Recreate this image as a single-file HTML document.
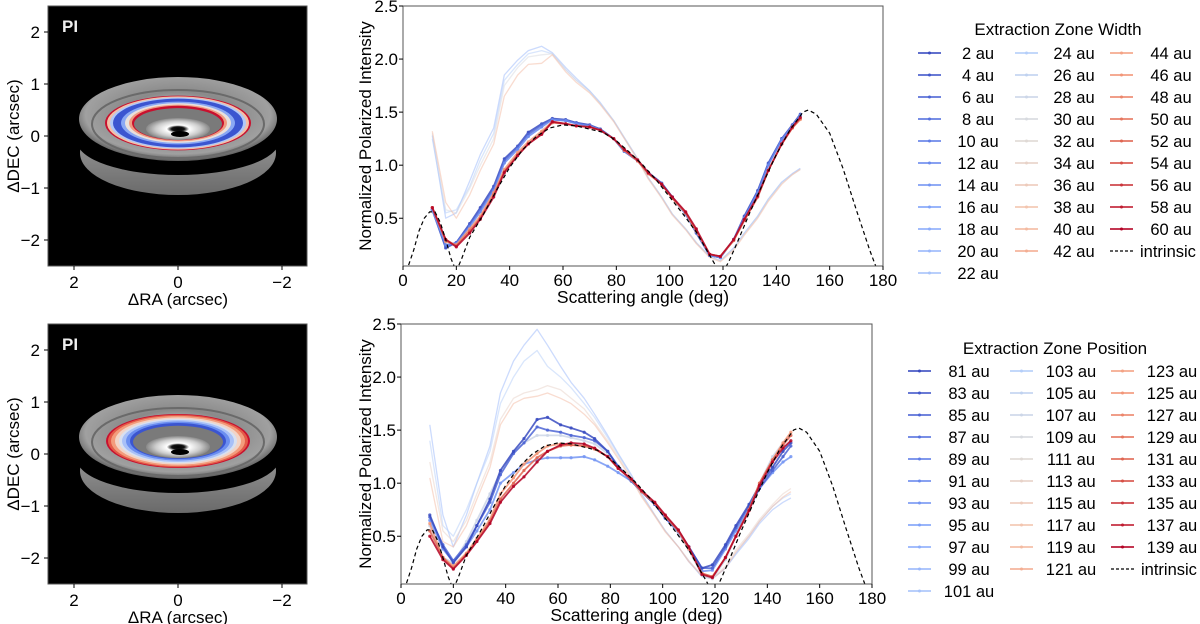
<!DOCTYPE html>
<html><head><meta charset="utf-8">
<style>
html,body{margin:0;padding:0;background:#fff;}
svg{display:block;font-family:"Liberation Sans","DejaVu Sans",sans-serif;}
</style></head>
<body>
<svg id="fig" width="1200" height="624" viewBox="0 0 1200 624" xmlns="http://www.w3.org/2000/svg">
<defs>
  <radialGradient id="grayDisk" cx="50%" cy="45%" r="55%">
    <stop offset="0" stop-color="#ddd"/>
    <stop offset="0.5" stop-color="#8a8a8a"/>
    <stop offset="0.85" stop-color="#a0a0a0"/>
    <stop offset="1" stop-color="#5a5a5a"/>
  </radialGradient>
  <linearGradient id="lowBand" x1="0" y1="0" x2="0" y2="1">
    <stop offset="0" stop-color="#aaa"/><stop offset="1" stop-color="#6a6a6a"/>
  </linearGradient>
  <radialGradient id="core" cx="50%" cy="50%" r="50%">
    <stop offset="0" stop-color="#000"/><stop offset="0.2" stop-color="#111"/>
    <stop offset="0.35" stop-color="#fff"/><stop offset="0.7" stop-color="#ccc"/><stop offset="1" stop-color="#888"/>
  </radialGradient>
  <clipPath id="clipTop"><rect x="403" y="6" width="480" height="260"/></clipPath>
  <clipPath id="clipBot"><rect x="401" y="324" width="471" height="260"/></clipPath>
  <clipPath id="imgClipT"><rect x="48" y="6" width="259" height="260"/></clipPath>
  <clipPath id="imgClipB"><rect x="48" y="324" width="259" height="260"/></clipPath>
</defs>
<g id="root"></g>
</svg>
<script>
// ---------------- DATA ----------------
const angles = [11,16,20,25,29,34,38,43,47,52,56,61,65,70,74,79,83,88,92,97,101,106,110,115,119,124,128,133,137,142,146,149];

// top panel (Extraction Zone Width) series
const w2  = [0.58,0.22,0.27,0.45,0.60,0.80,1.06,1.18,1.31,1.39,1.44,1.43,1.40,1.38,1.34,1.25,1.13,1.04,0.93,0.83,0.70,0.54,0.36,0.15,0.13,0.30,0.52,0.76,1.02,1.25,1.38,1.48];
const w6  = [0.58,0.24,0.27,0.44,0.58,0.78,1.04,1.17,1.29,1.38,1.43,1.42,1.40,1.37,1.34,1.25,1.13,1.04,0.93,0.83,0.70,0.54,0.37,0.15,0.13,0.30,0.51,0.75,1.01,1.24,1.37,1.47];
const w12 = [0.58,0.25,0.26,0.42,0.56,0.76,1.02,1.15,1.27,1.36,1.43,1.42,1.39,1.37,1.33,1.25,1.13,1.04,0.93,0.82,0.69,0.54,0.37,0.15,0.13,0.30,0.50,0.74,1.00,1.24,1.37,1.47];
const w20 = [1.28,0.50,0.55,0.85,1.10,1.35,1.85,1.99,2.08,2.12,2.06,1.92,1.82,1.70,1.59,1.42,1.26,1.06,0.88,0.70,0.54,0.40,0.27,0.14,0.10,0.22,0.36,0.52,0.68,0.84,0.92,0.97];
const w24 = [1.25,0.55,0.58,0.80,1.05,1.30,1.80,1.95,2.05,2.08,2.05,1.90,1.80,1.70,1.58,1.42,1.26,1.06,0.88,0.70,0.54,0.40,0.27,0.14,0.10,0.22,0.36,0.52,0.68,0.84,0.92,0.97];
const w30 = [1.30,0.58,0.55,0.78,1.00,1.25,1.75,1.92,2.02,2.04,2.05,1.90,1.80,1.69,1.58,1.42,1.26,1.06,0.88,0.70,0.54,0.40,0.27,0.14,0.10,0.21,0.35,0.51,0.67,0.83,0.91,0.96];
const w40 = [1.32,0.65,0.50,0.72,0.95,1.20,1.65,1.85,1.95,1.96,2.04,1.88,1.78,1.68,1.57,1.41,1.25,1.05,0.87,0.69,0.53,0.39,0.26,0.13,0.09,0.20,0.34,0.50,0.66,0.82,0.91,0.96];
const w46 = [0.60,0.28,0.25,0.40,0.52,0.74,0.96,1.12,1.22,1.32,1.41,1.39,1.37,1.36,1.33,1.25,1.14,1.04,0.92,0.82,0.69,0.55,0.38,0.16,0.14,0.29,0.48,0.70,0.95,1.20,1.35,1.43];
const w52 = [0.60,0.30,0.24,0.38,0.50,0.72,0.94,1.10,1.20,1.30,1.40,1.39,1.37,1.36,1.33,1.25,1.14,1.04,0.92,0.82,0.69,0.55,0.38,0.16,0.14,0.29,0.48,0.70,0.95,1.20,1.35,1.44];
const w60 = [0.60,0.30,0.23,0.36,0.49,0.70,0.93,1.09,1.20,1.29,1.41,1.39,1.37,1.36,1.33,1.25,1.15,1.05,0.93,0.82,0.70,0.56,0.40,0.16,0.14,0.30,0.49,0.71,0.95,1.20,1.36,1.45];
const topSeries = [w20, w24, w30, w40, w2, w6, w12, w46, w52, w60];
const topSeriesAu = [20, 24, 30, 40, 2, 6, 12, 46, 52, 60];
const topFaint = [true, true, true, true, false, false, false, false, false, false];
const topLegend = [2,4,6,8,10,12,14,16,18,20,22,24,26,28,30,32,34,36,38,40,42,44,46,48,50,52,54,56,58,60];

// bottom panel (Extraction Zone Position) series
const p81  = [0.70,0.40,0.25,0.40,0.60,0.85,1.12,1.30,1.42,1.60,1.62,1.55,1.52,1.48,1.42,1.30,1.15,1.02,0.92,0.80,0.68,0.55,0.40,0.20,0.23,0.42,0.60,0.80,0.98,1.15,1.30,1.38];
const p85  = [0.68,0.42,0.27,0.42,0.60,0.82,1.08,1.28,1.38,1.53,1.50,1.48,1.45,1.43,1.40,1.30,1.16,1.03,0.92,0.80,0.67,0.55,0.40,0.20,0.20,0.40,0.58,0.78,0.95,1.12,1.25,1.35];
const p93  = [0.65,0.38,0.26,0.40,0.55,0.75,1.00,1.10,1.18,1.22,1.24,1.24,1.24,1.25,1.22,1.16,1.10,1.02,0.92,0.80,0.67,0.54,0.38,0.17,0.18,0.38,0.55,0.75,0.95,1.10,1.20,1.25];
const p99  = [1.55,0.70,0.40,0.70,1.00,1.35,1.85,2.15,2.30,2.45,2.30,2.10,1.95,1.80,1.65,1.45,1.28,1.08,0.90,0.70,0.55,0.40,0.26,0.12,0.10,0.20,0.33,0.48,0.62,0.75,0.82,0.86];
const p103 = [1.40,0.60,0.50,0.75,1.00,1.30,1.75,2.00,2.15,2.25,2.10,2.00,1.90,1.75,1.62,1.43,1.27,1.07,0.89,0.70,0.55,0.40,0.27,0.12,0.10,0.20,0.34,0.50,0.64,0.78,0.86,0.90];
const p107 = [0.60,0.30,0.25,0.45,0.65,0.90,1.10,1.30,1.38,1.45,1.45,1.45,1.43,1.40,1.37,1.28,1.15,1.03,0.92,0.80,0.67,0.53,0.37,0.14,0.10,0.28,0.50,0.75,1.00,1.25,1.38,1.45];
const p113 = [1.20,0.55,0.45,0.65,0.90,1.20,1.60,1.80,1.85,1.88,1.92,1.88,1.80,1.70,1.57,1.40,1.25,1.05,0.88,0.70,0.55,0.40,0.27,0.13,0.10,0.22,0.37,0.52,0.66,0.80,0.90,0.95];
const p119 = [1.05,0.45,0.40,0.60,0.85,1.15,1.55,1.75,1.80,1.82,1.85,1.80,1.75,1.65,1.55,1.38,1.23,1.04,0.87,0.69,0.54,0.40,0.26,0.13,0.10,0.20,0.35,0.50,0.64,0.78,0.87,0.92];
const p125 = [0.62,0.30,0.22,0.34,0.48,0.66,0.90,1.05,1.18,1.28,1.35,1.37,1.36,1.35,1.32,1.25,1.14,1.03,0.92,0.81,0.69,0.55,0.38,0.15,0.12,0.30,0.50,0.75,1.00,1.22,1.38,1.48];
const p131 = [0.55,0.30,0.20,0.33,0.46,0.64,0.85,1.00,1.12,1.24,1.30,1.35,1.36,1.35,1.33,1.25,1.14,1.04,0.92,0.81,0.69,0.55,0.39,0.15,0.12,0.30,0.50,0.75,1.00,1.22,1.36,1.45];
const p139 = [0.50,0.28,0.19,0.32,0.45,0.62,0.82,0.97,1.06,1.20,1.30,1.36,1.38,1.37,1.33,1.25,1.14,1.04,0.93,0.82,0.70,0.56,0.40,0.14,0.11,0.30,0.50,0.74,0.98,1.20,1.33,1.40];
const botSeries = [p99, p103, p113, p119, p107, p93, p85, p81, p125, p131, p139];
const botSeriesAu = [99, 103, 113, 119, 107, 93, 85, 81, 125, 131, 139];
const botFaint = [true, true, true, true, false, false, false, false, false, false, false];
const botLegend = [81,83,85,87,89,91,93,95,97,99,101,103,105,107,109,111,113,115,117,119,121,123,125,127,129,131,133,135,137,139];

// intrinsic phase function
const intrAngles = [0,2,4,6,8,10,12,14,16,18,20,22,25,30,35,40,45,50,55,60,65,70,75,80,85,90,95,100,105,110,115,118,120,122,125,130,135,140,145,150,152,155,160,165,170,175,178,180];
const intrValues = [-0.2,0.05,0.2,0.38,0.5,0.56,0.56,0.46,0.3,0.12,0.0,0.12,0.32,0.53,0.76,0.98,1.15,1.27,1.35,1.38,1.37,1.34,1.31,1.23,1.12,1.0,0.86,0.7,0.54,0.37,0.15,0.02,0.0,0.08,0.25,0.55,0.83,1.1,1.33,1.5,1.52,1.48,1.3,0.97,0.58,0.2,0.0,-0.2];

const xTicks = [0,20,40,60,80,100,120,140,160,180];
const yTicks = [0.5,1.0,1.5,2.0,2.5];
const imgTicks = [2,1,0,-1,-2];
const imgXTicks = [2,0,-2];

// ---------------- DRAW ----------------
const NS = "http://www.w3.org/2000/svg";
const root = document.getElementById('root');
function mk(tag, attrs, parent){ const e=document.createElementNS(NS,tag); for(const k in attrs) e.setAttribute(k,attrs[k]); (parent||root).appendChild(e); return e; }
function txt(s, attrs, parent){ const e=mk('text',attrs,parent); e.textContent=s; return e; }

const CW = [[0,[58,76,193]],[0.125,[92,122,229]],[0.25,[130,165,251]],[0.375,[179,205,250]],[0.5,[221,220,219]],[0.625,[244,196,173]],[0.75,[244,154,123]],[0.875,[222,96,77]],[1,[180,4,38]]];
function cw(t){ t=Math.max(0,Math.min(1,t)); for(let i=1;i<CW.length;i++){ if(t<=CW[i][0]){ const a=CW[i-1],b=CW[i]; const f=(t-a[0])/(b[0]-a[0]); const c=a[1].map((v,j)=>Math.round(v+(b[1][j]-v)*f)); return `rgb(${c[0]},${c[1]},${c[2]})`; } } return 'rgb(180,4,38)'; }

function drawImage(yOff, topPanel){
  const g = mk('g',{});
  
  
  mk('rect',{x:48,y:6+yOff,width:259,height:260,fill:'#000'},g);
  const ig = mk('g',{'clip-path': topPanel?'url(#imgClipT)':'url(#imgClipB)'},g);
  mk('ellipse',{cx:178,cy:153+yOff,rx:98,ry:42,fill:'url(#lowBand)'},ig);
  mk('ellipse',{cx:178,cy:141+yOff,rx:101,ry:34,fill:'#000'},ig);
  mk('ellipse',{cx:178,cy:119+yOff,rx:99,ry:42,fill:'url(#grayDisk)'},ig);
  mk('ellipse',{cx:178,cy:124+yOff,rx:86,ry:34,fill:'none',stroke:'#6a6a6a',"stroke-width":2},ig);
  const rings = topPanel
    ? [[73,'#c8102e'],[71,'#f2c0a8'],[68,'#b0c8f8'],[65,'#3b55d0'],[57,'#8aa8f4'],[53,'#e8e0dc'],[49,'#f09a80'],[46,'#c8102e']]
    : [[72,'#c8102e'],[70,'#e35a48'],[67,'#f39c7c'],[63,'#f2d4c6'],[59,'#d8e0f0'],[56,'#a8c0f8'],[52,'#6b8ef0'],[48,'#3b55d0']];
  rings.forEach(r=>mk('ellipse',{cx:178,cy:123+yOff,rx:r[0],ry:r[0]*0.375,fill:r[1]},ig));
  const inner = topPanel?44:45;
  mk('ellipse',{cx:178,cy:124+yOff,rx:inner,ry:inner*0.36,fill:'#7a7a7a'},ig);
  mk('ellipse',{cx:178,cy:129+yOff,rx:32,ry:11,fill:'url(#core)'},ig);
  mk('ellipse',{cx:180,cy:134+yOff,rx:9,ry:3,fill:'#000'},ig);
  mk('rect',{x:48,y:6+yOff,width:259,height:260,fill:'none',stroke:'#555','stroke-width':1},g);
  const pi = txt('PI',{x:62,y:32+yOff,fill:'#eee','font-size':17,'font-weight':'bold'},g);
   
  imgTicks.forEach(v=>{ const y=136+yOff-v*52;
    mk('line',{x1:44,y1:y,x2:48,y2:y,stroke:'#000'},g);
    txt(v<0?'\u2212'+(-v):String(v),{x:40,y:y+6,'text-anchor':'end','font-size':17},g);});
  imgXTicks.forEach(v=>{ const x=178-v*52;
    mk('line',{x1:x,y1:266+yOff,x2:x,y2:270+yOff,stroke:'#000'},g);
    txt(v<0?'\u2212'+(-v):String(v),{x:x,y:288+yOff,'text-anchor':'middle','font-size':17},g);});
  const xl = txt('\u0394RA (arcsec)',{x:178,y:305+yOff,'text-anchor':'middle','font-size':17},g);
   
  const yl = txt('\u0394DEC (arcsec)',{x:0,y:0,'text-anchor':'middle','font-size':17,transform:`translate(19,${136+yOff}) rotate(-90)`},g);
   
}

function drawChart(cfg){
  const {x0,x1,yT,yB,clip,series,seriesAu,faint,auMin,auMax,name} = cfg;
  const g = mk('g',{});
  
  
  const ppu = (yB - yT) / 2.45;
  const sx = a => x0 + (a/180)*(x1-x0);
  const sy = v => yT + (2.5 - v)*ppu;
  const pg = mk('g',{'clip-path':`url(#${clip})`},g);
  series.forEach((s,i)=>{
    const t=(seriesAu[i]-auMin)/(auMax-auMin);
    const col=cw(t);
    const d=s.map((v,j)=>(j?'L':'M')+sx(angles[j]).toFixed(1)+','+sy(v).toFixed(1)).join('');
    const p=mk('path',{d:d,fill:'none',stroke:col,'stroke-width':faint[i]?1.3:1.8,'stroke-opacity':faint[i]?0.5:0.85,'stroke-linejoin':'round'},pg);
    
    
    if(!faint[i]) s.forEach((v,j)=>{ const c=mk('circle',{cx:sx(angles[j]),cy:sy(v),r:1.6,fill:col,'fill-opacity':0.85},pg);
        });
  });
  const di = intrAngles.map((a,j)=>(j?'L':'M')+sx(a).toFixed(1)+','+sy(intrValues[j]).toFixed(1)).join('');
  const ip=mk('path',{d:di,fill:'none',stroke:'#000','stroke-width':1.2,'stroke-dasharray':'4,3'},pg);
   
  mk('rect',{x:x0,y:yT,width:x1-x0,height:yB-yT,fill:'none',stroke:'#555','stroke-width':1},g);
  xTicks.forEach(a=>{ const x=sx(a);
    mk('line',{x1:x,y1:yB,x2:x,y2:yB+4,stroke:'#000'},g);
    txt(String(a),{x:x,y:yB+20,'text-anchor':'middle','font-size':17},g);});
  yTicks.forEach(v=>{ const y=sy(v);
    mk('line',{x1:x0-4,y1:y,x2:x0,y2:y,stroke:'#000'},g);
    txt(v.toFixed(1),{x:x0-5,y:y+6,'text-anchor':'end','font-size':17},g);});
  const xl=txt('Scattering angle (deg)',{x:(x0+x1)/2,y:yB+37,'text-anchor':'middle','font-size':17.5},g);
   
  const yl=txt('Normalized Polarized Intensity',{x:0,y:0,'text-anchor':'middle','font-size':17,transform:`translate(371,${(yT+yB)/2}) rotate(-90)`},g);
   
}

function drawLegend(cfg){
  const {title,tx,ty,labels,cols,rowY,rowH,perCol,auMin,auMax,name} = cfg;
  const g=mk('g',{});
  
  
  const t=txt(title,{x:tx,y:ty,'text-anchor':'middle','font-size':17},g);
   
  const all = labels.concat(['intrinsic']);
  all.forEach((lab,i)=>{
    const c = i < perCol[0] ? 0 : (i < perCol[0]+perCol[1] ? 1 : 2);
    const r = c===0 ? i : (c===1 ? i-perCol[0] : i-perCol[0]-perCol[1]);
    const col=cols[c];
    const y=rowY + r*rowH;
    const e=mk('g',{},g);
    
    
    if(lab==='intrinsic'){
      mk('line',{x1:col.lx,y1:y,x2:col.lx+23,y2:y,stroke:'#000','stroke-width':1.2,'stroke-dasharray':'3,2'},e);
      txt('intrinsic',{x:col.lx+30,y:y+6,'font-size':16.5},e);
    } else {
      const cc=cw((lab-auMin)/(auMax-auMin));
      mk('line',{x1:col.lx,y1:y,x2:col.lx+23,y2:y,stroke:cc,'stroke-width':2,'stroke-opacity':0.8},e);
      mk('circle',{cx:col.lx+11.5,cy:y,r:1.5,fill:cc},e);
      txt(lab+' au',{x:col.tx,y:y+6,'text-anchor':'middle','font-size':16.5},e);
    }
  });
}

drawImage(0,true);
drawImage(318,false);
drawChart({x0:403,x1:883,yT:6,yB:266,clip:'clipTop',series:topSeries,seriesAu:topSeriesAu,faint:topFaint,auMin:2,auMax:60,name:'width-chart'});
drawChart({x0:401,x1:872,yT:324,yB:584,clip:'clipBot',series:botSeries,seriesAu:botSeriesAu,faint:botFaint,auMin:81,auMax:139,name:'position-chart'});
drawLegend({title:'Extraction Zone Width',tx:1058,ty:35,labels:topLegend,cols:[{lx:918,tx:978},{lx:1015,tx:1074},{lx:1110,tx:1171}],rowY:53,rowH:22,perCol:[11,10,10],auMin:2,auMax:60,name:'width-legend'});
drawLegend({title:'Extraction Zone Position',tx:1055,ty:354,labels:botLegend,cols:[{lx:908,tx:969},{lx:1010,tx:1071},{lx:1111,tx:1172}],rowY:371,rowH:22,perCol:[11,10,10],auMin:81,auMax:139,name:'position-legend'});
</script>
</body></html>
